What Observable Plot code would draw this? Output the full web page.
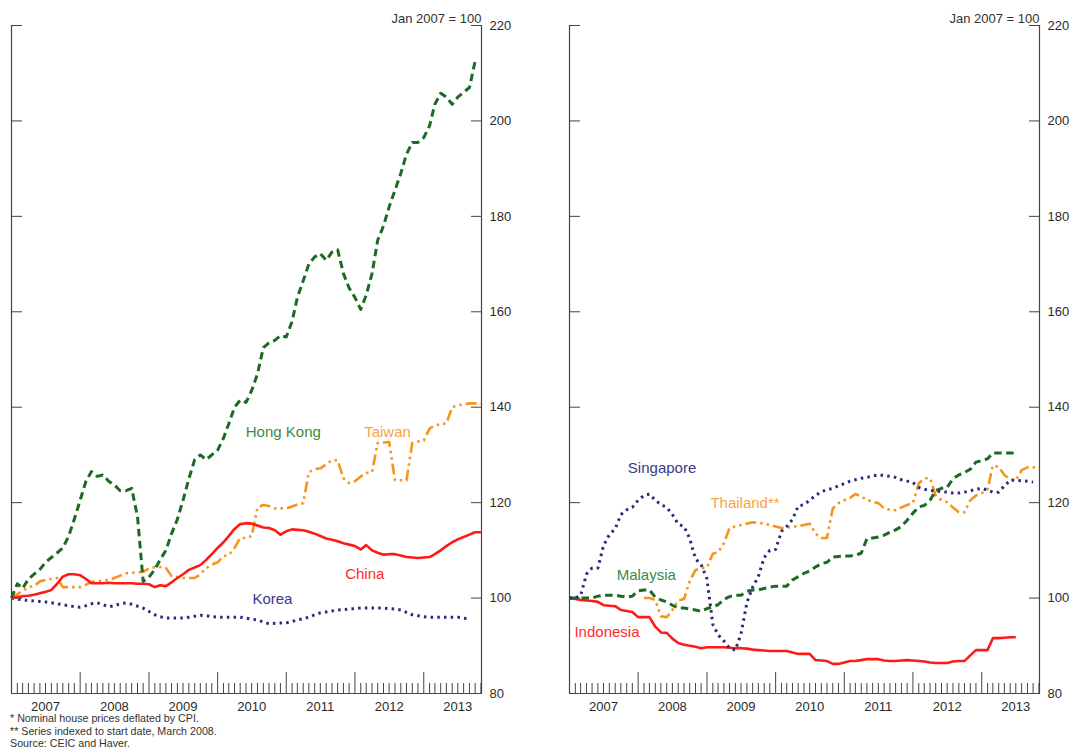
<!DOCTYPE html>
<html>
<head>
<meta charset="utf-8">
<script src="https://cdn.jsdelivr.net/npm/d3@7"></script>
<script src="https://cdn.jsdelivr.net/npm/@observablehq/plot@0.6"></script>
<style>
  html, body { margin: 0; padding: 0; background: #fff; }
  body { font-family: Arial, "Liberation Sans", sans-serif; }
  #wrap { position: relative; width: 1078px; height: 755px; overflow: hidden; background: #fff; }
  #left { position: absolute; left: 0; top: 0; }
  #right { position: absolute; left: 540px; top: 0; }
  #notes { position: absolute; left: 10px; top: 712px; font-size: 10.7px; line-height: 12.5px; color: #333; }
</style>
</head>
<body>
<div id="wrap">
  <div id="left"></div>
  <div id="right"></div>
  <div id="notes">
    <div>* Nominal house prices deflated by CPI.</div>
    <div>** Series indexed to start date, March 2008.</div>
    <div>Source: CEIC and Haver.</div>
  </div>
</div>
<script>
// ---------- Data (monthly, index 0 = Jan 2007; Jan 2007 = 100) ----------
const yearNames = [2007, 2008, 2009, 2010, 2011, 2012, 2013];
const yTickValues = [80, 100, 120, 140, 160, 180, 200, 220];
const unitLabel = "Jan 2007 = 100";

const hongKong = [100,103,102,104,105,106,107.5,108.5,109.5,110.5,113,116.5,120.5,124.5,126.5,125.5,125.8,124.5,123.7,122.5,122.5,123,117,103.5,104.4,106,108,110,113.5,116.5,120.5,125,129,130,129,130,131,133.5,136.5,140,141.5,141,143.5,147,152.5,153.5,154,155,154.7,158,163,166.5,170,171.5,172.2,170.8,172.5,173,168,165,163,160.5,163.5,168,175,178,182,185.5,189,193,195.5,195.5,196.5,199,203.5,205.8,205,203.5,205,206,207,212.5];
const taiwan = [100,100.8,101.5,102.3,102.5,103.5,103.8,104,104.2,102.3,102.3,102.3,102.3,102.8,103.4,103.5,103.7,103.8,104.2,104.7,105.2,105.3,105.4,105.5,106.2,106.5,106.5,106.3,104.6,104.4,104.2,104.2,104.2,105,106.3,107,107.5,108.8,109,110.5,112.6,112.6,113,119,119.5,119.3,118.8,118.8,118.8,119.2,119.6,119.9,126.4,127,127.2,128,128.9,128.9,125.1,124.1,124.5,125.5,126.2,126.4,132.5,132.6,132.7,124.7,124.7,124.7,132.5,132.8,133,135.5,136.2,136.4,136.6,140,140.4,140.6,140.8,140.8,140.8];
const china = [100,100.2,100.4,100.5,100.7,101,101.3,101.7,103,104.5,105,105,104.8,104,103.1,103.1,103.1,103.2,103.1,103.1,103.1,103.1,103,103,102.9,102.3,102.7,102.5,103.3,104.2,105,105.9,106.4,106.9,108,109.2,110.5,111.7,113,114.5,115.5,115.7,115.6,115.2,114.8,114.7,114.2,113.3,114,114.4,114.3,114.2,113.9,113.5,113,112.5,112.2,111.9,111.5,111.2,110.9,110.2,111.1,110,109.5,109.1,109.2,109.2,108.9,108.6,108.5,108.4,108.5,108.6,109.2,110,110.9,111.7,112.3,112.8,113.3,113.8,113.8];
const korea = [100,99.8,99.6,99.5,99.4,99.3,99.2,99,98.8,98.6,98.4,98.2,98.1,98.4,98.8,99,98.6,98.2,98.4,98.8,99,98.7,98.3,97.9,97.2,96.5,96.1,95.8,95.8,95.8,95.8,96,96.2,96.4,96.3,96.1,96,96,96,96,96,95.8,95.6,95.4,95,94.6,94.7,94.8,94.8,95.1,95.4,95.7,96,96.5,96.9,97.1,97.3,97.5,97.6,97.7,97.8,97.9,97.9,97.9,97.9,97.9,97.8,97.7,97.5,97,96.5,96.3,96.1,96,96,96,96,96,96,95.8,95.6];

const singapore = [100,100,100.5,105,106.3,106.3,111,113.3,114.5,117.5,118.5,119,120.5,121.5,121.8,120.5,119.6,119,117.5,115.5,115,112.5,108.2,107,104,94.5,92.3,91,89.5,89.1,92.5,99,102.3,104.5,108.5,110,110.2,114,115,116.5,119.3,119.6,120.5,121.5,122.3,122.7,123,123.5,124,124.5,124.8,125.1,125.3,125.6,125.8,125.7,125.5,125.3,124.8,124.5,124.2,123.2,122.8,122.6,122.4,122.3,122.2,122,122,122.2,122.5,122.8,123,122.6,122.2,122.2,123.5,124.7,124.7,124.6,124.5,124.3];
// Thailand is indexed to its start date (first value at index 13)
const thailandStart = 13;
const thailand = [100,100,99.6,96.2,96,97.5,99.5,99.8,103.5,105.9,106.2,106.4,109.3,109.6,111.5,114.7,115,115.3,115.6,115.9,115.8,115.6,115.3,115,114.7,114.8,114.9,115.1,115.3,115.6,113.5,112.6,112.6,118.8,119.9,120.5,121,121.8,121.3,120.6,120.2,119.9,118.8,118.5,118.4,119,119.5,119.9,124,125.1,125.1,121.5,120.5,120.1,119,118,118,120.5,121.5,122,122.8,127.8,127.5,125.8,124.9,124.7,126.8,127.4,127.4,127.4];
const malaysia = [100,100,100,100,100,100.4,100.6,100.6,100.6,100.4,100.2,100.4,101.5,101.7,101.7,100.2,99.6,99.2,98.5,97.9,97.9,97.7,97.5,97.2,97.8,98.2,98.6,99.7,100.3,100.6,100.6,101.4,101.7,101.7,102,102.3,102.5,102.5,102.5,103.8,104.5,105.2,105.7,106.5,107.2,107.5,108.6,108.7,108.8,108.8,109,109.4,112.4,112.6,112.8,113.2,113.8,114.3,115,116.3,117.8,119.1,119.4,120.5,122.5,123,123.2,125,125.8,126.3,127,128.5,128.8,129.2,130.4,130.4,130.4,130.4,130.4];
const indonesia = [100,99.8,99.6,99.5,99.4,99.2,98.5,98.4,98.3,97.5,97.3,97.1,96,96,96,94,92.8,92.7,91.5,90.6,90.2,90,89.8,89.5,89.7,89.7,89.7,89.7,89.6,89.5,89.5,89.4,89.2,89.1,89,88.9,88.9,88.9,88.9,88.6,88.3,88.3,88.3,87,86.9,86.8,86.2,86.2,86.5,86.8,86.8,87,87.2,87.2,87.2,86.9,86.8,86.8,86.9,87,86.9,86.8,86.7,86.5,86.4,86.4,86.4,86.7,86.8,86.8,88,89.1,89.1,89.1,91.6,91.6,91.7,91.8,91.8];

// Series name annotations (month index, value)
const leftNames = ["Hong Kong", "Taiwan", "China", "Korea"];
const leftNameMonth = [47.5, 65.7, 61.7, 45.6];
const leftNameValue = [134.8, 134.8, 105, 99.8];
const rightNames = ["Singapore", "Thailand**", "Malaysia", "Indonesia"];
const rightNameMonth = [16.2, 30.7, 13.4, 6.6];
const rightNameValue = [127.2, 119.9, 104.8, 92.9];

// ---------- Helpers ----------
const start = new Date(Date.UTC(2007, 0, 1));
const end = new Date(Date.UTC(2013, 10, 4));
const monthDate = i => new Date(+d3.utcMonth.offset(start, Math.floor(i)) + (i % 1) * 30.44 * 864e5);
const rows = (values, offset = 0) => values.map((v, i) => ({date: monthDate(i + offset), value: v}));

const monthTicks = d3.utcMonth.range(d3.utcMonth.offset(start, 1), end).filter(d => d.getUTCMonth() !== 0);
const yearTicks = d3.utcYear.range(d3.utcYear.offset(start, 1), end);
const yearLabelDates = yearNames.map(y => new Date(Date.UTC(y, 6, 1)));

const C = {
  green: "#1d6b22", greenText: "#3a8a48",
  orange: "#f7941d", orangeText: "#f7a445",
  red: "#ff1a1a", redText: "#ff2a2a",
  navy: "#2a2a7a", navyText: "#3a3a88",
  axis: "#444"
};
const STYLE = {
  dashed: {strokeDasharray: "7.5,4.5", strokeWidth: 3},
  dashDotDot: {strokeDasharray: "11,4,2.5,4,2.5,4", strokeWidth: 2.6},
  solid: {strokeWidth: 2.6},
  dotted: {strokeDasharray: "2.5,4.2", strokeWidth: 3}
};

function panel(series, names, width, marginLeft, marginRight) {
  const marks = [
    Plot.ruleY([80], {stroke: C.axis, strokeWidth: 1.2}),
    Plot.ruleX([start, end], {stroke: C.axis, strokeWidth: 1.2}),
    Plot.axisY({anchor: "right", ticks: yTickValues, tickSize: -11, tickPadding: 19, label: null, fontSize: 13, stroke: C.axis}),
    Plot.axisY({anchor: "left", ticks: yTickValues, tickSize: -11, tickFormat: () => "", label: null, stroke: C.axis}),
    Plot.axisX({anchor: "bottom", ticks: monthTicks, tickSize: -10, tickFormat: () => "", label: null, stroke: C.axis}),
    Plot.axisX({anchor: "bottom", ticks: yearTicks, tickSize: -21, tickFormat: () => "", label: null, stroke: C.axis}),
    Plot.axisX({anchor: "bottom", ticks: yearLabelDates, tickSize: 0, tickPadding: 8, tickFormat: d3.utcFormat("%Y"), label: null, fontSize: 13}),
    Plot.text([unitLabel], {frameAnchor: "top-right", dy: -12, dx: 0, textAnchor: "end", fontSize: 13, fill: "#333"})
  ];
  for (const s of series) {
    marks.push(Plot.line(rows(s.values, s.offset || 0), {
      x: "date", y: "value", stroke: s.color, strokeDasharray: s.style.strokeDasharray,
      strokeWidth: s.style.strokeWidth, strokeLinejoin: "round", strokeLinecap: "butt"
    }));
  }
  names.forEach((n) => {
    marks.push(Plot.text([n], {x: d => monthDate(d.month), y: d => d.value, text: d => d.name, fill: n.color, fontSize: 15}));
  });
  return Plot.plot({
    width, height: 755,
    marginLeft, marginRight, marginTop: 25, marginBottom: 62,
    x: {type: "utc", domain: [start, end]},
    y: {domain: [80, 220]},
    style: {fontFamily: "Arial, 'Liberation Sans', sans-serif", fontSize: "13px", color: "#2a2a2a", background: "transparent", overflow: "visible"},
    marks
  });
}

const leftSeries = [
  {values: korea, color: C.navy, style: STYLE.dotted},
  {values: taiwan, color: C.orange, style: STYLE.dashDotDot},
  {values: china, color: C.red, style: STYLE.solid},
  {values: hongKong, color: C.green, style: STYLE.dashed}
];
const rightSeries = [
  {values: indonesia, color: C.red, style: STYLE.solid},
  {values: thailand, offset: thailandStart, color: C.orange, style: STYLE.dashDotDot},
  {values: malaysia, color: C.green, style: STYLE.dashed},
  {values: singapore, color: C.navy, style: STYLE.dotted}
];
const leftNameColors = [C.greenText, C.orangeText, C.redText, C.navyText];
const rightNameColors = [C.navyText, C.orangeText, C.greenText, C.redText];
const leftLabels = leftNames.map((name, i) => ({name, month: leftNameMonth[i], value: leftNameValue[i], color: leftNameColors[i]}));
const rightLabels = rightNames.map((name, i) => ({name, month: rightNameMonth[i], value: rightNameValue[i], color: rightNameColors[i]}));

document.getElementById("left").append(panel(leftSeries, leftLabels, 540, 11, 59));
document.getElementById("right").append(panel(rightSeries, rightLabels, 538, 29, 39));
</script>
</body>
</html>
